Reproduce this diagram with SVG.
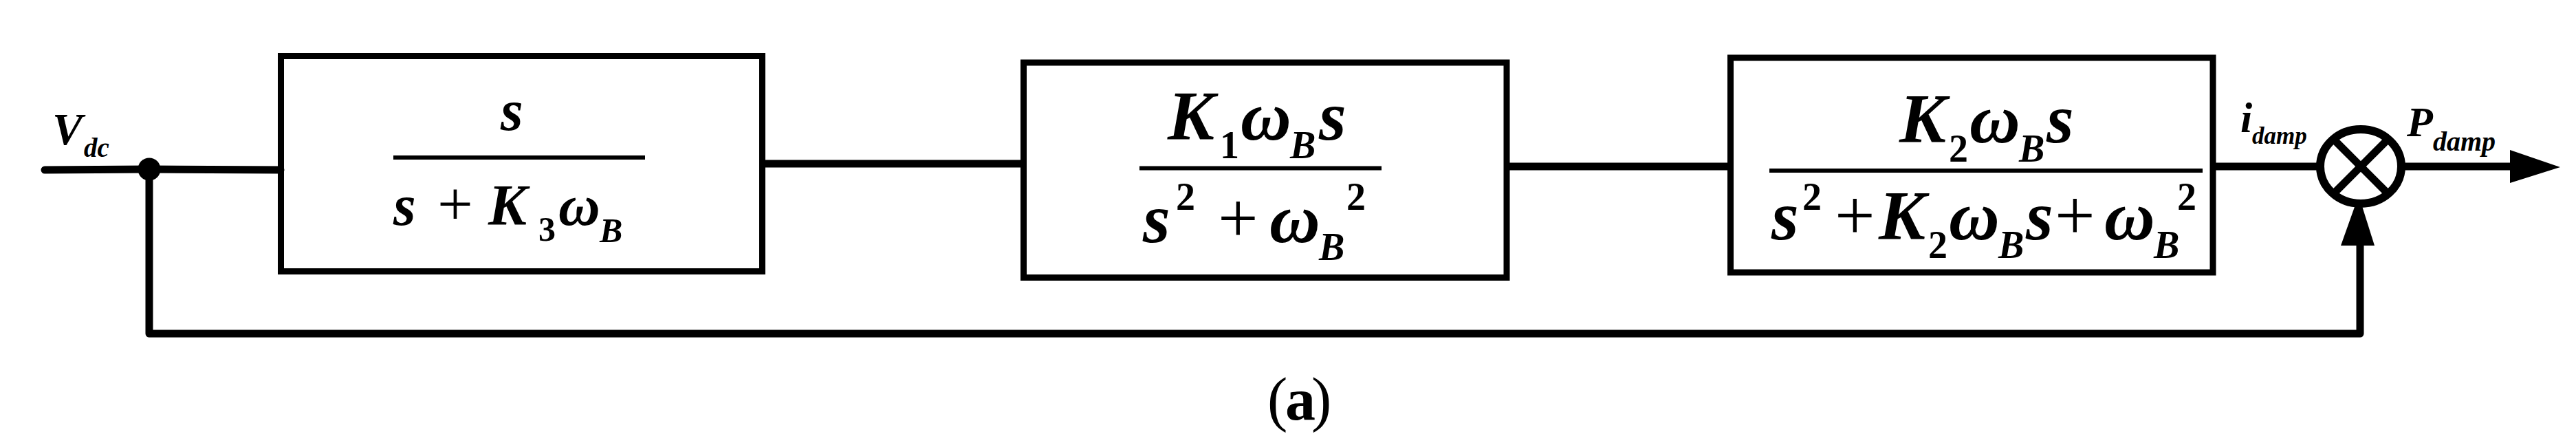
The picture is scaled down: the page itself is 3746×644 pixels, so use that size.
<svg xmlns="http://www.w3.org/2000/svg" width="3746" height="644" viewBox="0 0 3746 644">
<style>
.bg{fill:#fff}
.box{fill:none;stroke:#000;stroke-width:9}
.frac{stroke:#000;stroke-width:6}
.wire{fill:none;stroke:#000;stroke-width:11}
.m{font-family:"Liberation Serif","Times New Roman",serif;font-style:italic;font-weight:bold;fill:#000}
.d{font-family:"Liberation Serif","Times New Roman",serif;font-style:normal;font-weight:bold;fill:#000}
.p{font-family:"Liberation Serif","Times New Roman",serif;font-style:normal;font-weight:normal;fill:#000}
</style>
<rect class="bg" x="0" y="0" width="3746" height="644"/>
<g id="connectors">
  <polyline class="wire" stroke-linecap="round" points="65,247 217,246 408,247"/>
  <polyline class="wire" stroke-linejoin="round" points="217,246 217,485 3432,485 3432,350"/>
  <line class="wire" x1="1109" y1="238" x2="1488" y2="238"/>
  <line class="wire" x1="2191" y1="242" x2="2516" y2="242"/>
  <line class="wire" x1="3218" y1="242" x2="3374" y2="242"/>
  <line class="wire" x1="3492" y1="242" x2="3655" y2="242"/>
  <polygon points="3650,218 3723,243 3650,266" fill="#000"/>
  <polygon points="3404,357 3453,357 3430,284" fill="#000"/>
  <circle cx="217" cy="246" r="16.5" fill="#000"/>
</g>
<g id="label-vdc">
  <text class="m" font-size="66"><tspan x="76" y="210">V</tspan><tspan x="122" y="228" font-size="39">dc</tspan></text>
</g>
<g id="block1">
  <rect class="box" x="408.5" y="81.5" width="700" height="313"/>
  <line class="frac" x1="572" y1="229" x2="938" y2="229"/>
  <text class="m" font-size="84" x="728" y="189">s</text>
  <text class="m" font-size="84"><tspan x="572" y="327">s</tspan><tspan class="p" font-size="92" x="636" y="327">+</tspan><tspan x="710" y="327">K</tspan><tspan class="d" font-size="50" x="783" y="350">3</tspan><tspan x="812" y="327">ω</tspan><tspan font-size="50" x="872" y="352">B</tspan></text>
</g>
<g id="block2">
  <rect class="box" x="1488.5" y="91" width="702.5" height="312.5"/>
  <line class="frac" x1="1657" y1="244.5" x2="2009" y2="244.5"/>
  <text class="m" font-size="102"><tspan x="1698" y="203">K</tspan><tspan class="d" font-size="56" x="1774" y="230">1</tspan><tspan x="1804" y="203">ω</tspan><tspan font-size="56" x="1876" y="230">B</tspan><tspan x="1918" y="203">s</tspan></text>
  <text class="m" font-size="102"><tspan x="1662" y="352">s</tspan><tspan class="d" font-size="56" x="1710" y="305">2</tspan><tspan class="p" font-size="104" x="1771" y="352">+</tspan><tspan x="1846" y="352">ω</tspan><tspan font-size="56" x="1918" y="378">B</tspan><tspan class="d" font-size="56" x="1958" y="305">2</tspan></text>
</g>
<g id="block3">
  <rect class="box" x="2516.5" y="84" width="701.5" height="312"/>
  <line class="frac" x1="2573" y1="248" x2="3203" y2="248"/>
  <text class="m" font-size="102"><tspan x="2762" y="207">K</tspan><tspan class="d" font-size="56" x="2834" y="235">2</tspan><tspan x="2864" y="207">ω</tspan><tspan font-size="56" x="2936" y="235">B</tspan><tspan x="2976" y="207">s</tspan></text>
  <text class="m" font-size="102"><tspan x="2576" y="348">s</tspan><tspan class="d" font-size="56" x="2621" y="305">2</tspan><tspan class="p" font-size="104" x="2668" y="348">+</tspan><tspan x="2732" y="348">K</tspan><tspan class="d" font-size="56" x="2804" y="375">2</tspan><tspan x="2834" y="348">ω</tspan><tspan font-size="56" x="2906" y="375">B</tspan><tspan x="2946" y="348">s</tspan><tspan class="p" font-size="104" x="2988" y="348">+</tspan><tspan x="3060" y="348">ω</tspan><tspan font-size="56" x="3132" y="375">B</tspan><tspan class="d" font-size="56" x="3166" y="305">2</tspan></text>
</g>
<g id="label-idamp">
  <text class="m" font-size="62"><tspan x="3258" y="192">i</tspan><tspan x="3275" y="209" font-size="35">damp</tspan></text>
</g>
<g id="multiplier">
  <ellipse cx="3433" cy="242" rx="59" ry="54" fill="#fff" stroke="#000" stroke-width="12"/>
  <line class="wire" x1="3396" y1="205" x2="3470" y2="279"/>
  <line class="wire" x1="3470" y1="205" x2="3396" y2="279"/>
</g>
<g id="label-pdamp">
  <text class="m" font-size="62"><tspan x="3500" y="198">P</tspan><tspan x="3538" y="219" font-size="40">damp</tspan></text>
</g>
<g id="caption">
  <text class="p" font-size="88"><tspan x="1843" y="610">(</tspan><tspan class="d" x="1869" y="610">a</tspan><tspan x="1907" y="610">)</tspan></text>
</g>
</svg>
